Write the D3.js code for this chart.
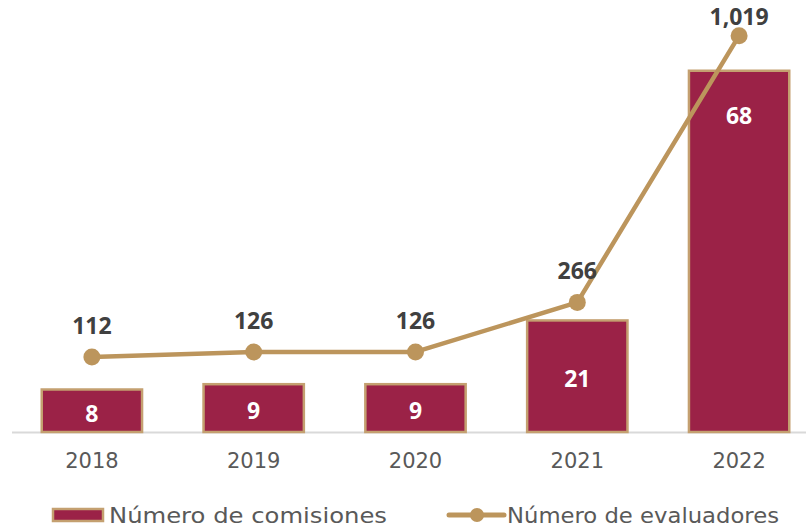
<!DOCTYPE html>
<html>
<head>
<meta charset="utf-8">
<script src="https://cdn.jsdelivr.net/npm/d3@7"></script>
<style>
  body { margin: 0; background: #fff; }
  svg { display: block; font-family: "DejaVu Sans", sans-serif; }
</style>
</head>
<body>
<div class="chart"></div>
<script>
// data
const years = ["2018", "2019", "2020", "2021", "2022"];
const comisiones = [8, 9, 9, 21, 68];
const evaluadores = [112, 126, 126, 266, 1019];
const seriesNames = ["Número de comisiones", "Número de evaluadores"];

const W = 806, H = 527;
const barFill = "#9b2247", gold = "#bc955c";
const numFont = "Open Sans, sans-serif";

const svg = d3.select(".chart").append("svg")
  .attr("width", W).attr("height", H);

const x = d3.scaleBand().domain(years).range([11, 820]).paddingInner(0.38).paddingOuter(0.19);
const yL = d3.scaleLinear().domain([0, 80]).range([432, 7]);
const yR = d3.scaleLinear().domain([-100, 1100]).range([432, 7]);
const cx = d => x(d) + x.bandwidth() / 2;

// axis line
svg.append("line")
  .attr("x1", 12).attr("x2", W).attr("y1", 432.5).attr("y2", 432.5)
  .attr("stroke", "#d9d9d9").attr("stroke-width", 2);

// bars
svg.append("g").selectAll("rect")
  .data(comisiones)
  .join("rect")
  .attr("x", (d, i) => x(years[i]))
  .attr("y", d => yL(d))
  .attr("width", x.bandwidth())
  .attr("height", d => yL(0) - yL(d))
  .attr("fill", barFill)
  .attr("stroke", "#c4a070")
  .attr("stroke-width", 2.5);

// bar labels: centred, or near the top for tall bars
svg.append("g").selectAll("text")
  .data(comisiones)
  .join("text")
  .attr("x", (d, i) => cx(years[i]))
  .attr("y", d => {
    const h = yL(0) - yL(d);
    return (h > 200 ? yL(d) + 45 : (yL(d) + yL(0)) / 2 + 3) + 8;
  })
  .attr("text-anchor", "middle")
  .attr("fill", "#fff")
  .attr("font-family", numFont)
  .attr("font-weight", 700)
  .attr("font-size", 23)
  .text(d => d);

// line
const line = d3.line().x((d, i) => cx(years[i])).y(d => yR(d));
svg.append("path")
  .datum(evaluadores)
  .attr("d", line)
  .attr("fill", "none")
  .attr("stroke", gold)
  .attr("stroke-width", 4.5)
  .attr("stroke-linejoin", "round");

svg.append("g").selectAll("circle")
  .data(evaluadores)
  .join("circle")
  .attr("cx", (d, i) => cx(years[i]))
  .attr("cy", d => yR(d))
  .attr("r", 8.5)
  .attr("fill", gold);

svg.append("g").selectAll("text")
  .data(evaluadores)
  .join("text")
  .attr("x", (d, i) => cx(years[i]))
  .attr("y", d => Math.max(yR(d) - 23, 25))
  .attr("text-anchor", "middle")
  .attr("fill", "#404040")
  .attr("font-family", numFont)
  .attr("font-weight", 700)
  .attr("font-size", 23)
  .text(d => d3.format(",")(d));

// x axis labels
const xAxis = d3.axisBottom(x).tickSize(0).tickPadding(21);
svg.append("g")
  .attr("transform", "translate(0,432)")
  .call(xAxis)
  .call(g => g.select(".domain").remove())
  .selectAll("text")
  .attr("font-size", 21)
  .attr("font-family", "DejaVu Sans, sans-serif")
  .attr("fill", "#595959");

// legend
const lg = svg.append("g").attr("font-size", 22).attr("fill", "#595959");
lg.append("rect")
  .attr("x", 53).attr("y", 509).attr("width", 50).attr("height", 12)
  .attr("fill", barFill).attr("stroke", "#c4a070").attr("stroke-width", 2.5);
lg.append("text").attr("x", 109).attr("y", 523)
  .attr("textLength", 278).attr("lengthAdjust", "spacingAndGlyphs")
  .text(seriesNames[0]);
lg.append("line")
  .attr("x1", 449).attr("x2", 504).attr("y1", 515).attr("y2", 515)
  .attr("stroke", gold).attr("stroke-width", 5).attr("stroke-linecap", "round");
lg.append("circle").attr("cx", 477).attr("cy", 515).attr("r", 7).attr("fill", gold);
lg.append("text").attr("x", 507).attr("y", 523)
  .attr("textLength", 272).attr("lengthAdjust", "spacingAndGlyphs")
  .text(seriesNames[1]);
</script>
</body>
</html>
